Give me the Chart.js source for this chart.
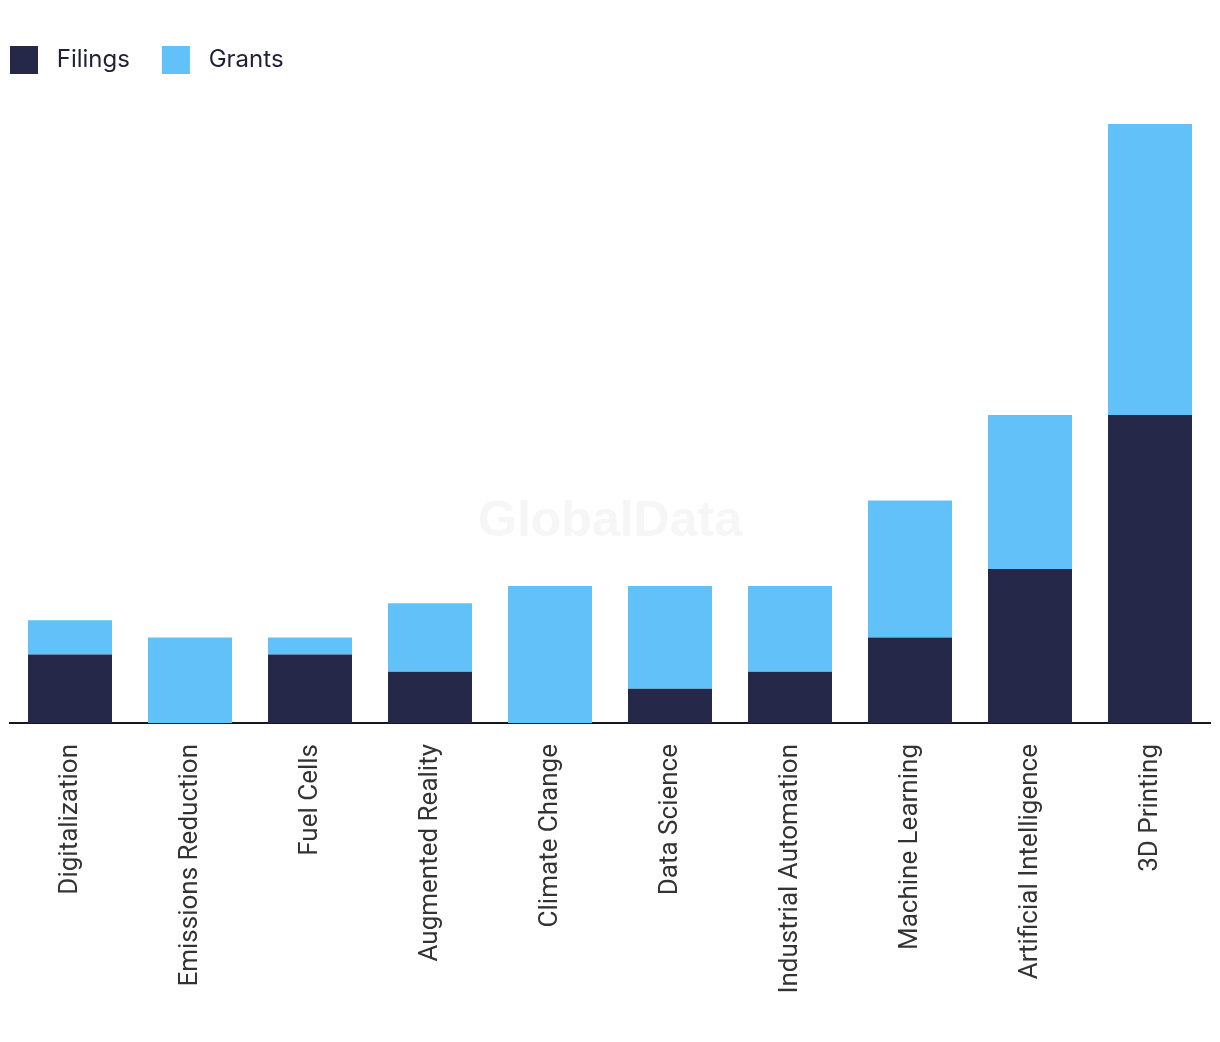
<!DOCTYPE html>
<html>
<head>
<meta charset="utf-8">
<script src="https://cdn.jsdelivr.net/npm/chart.js@4.4.1/dist/chart.umd.min.js"></script>
<style>
  html, body { margin: 0; padding: 0; background: #fff; }
  #wrap { width: 1220px; height: 1042px; position: relative; }
</style>
</head>
<body>
<div id="wrap"><canvas id="patentChart"></canvas></div>
<script>
// datos del gráfico
const categorias = ["Digitalization", "Emissions Reduction", "Fuel Cells", "Augmented Reality",
  "Climate Change", "Data Science", "Industrial Automation", "Machine Learning",
  "Artificial Intelligence", "3D Printing"];
const filings = [4, 0, 4, 3, 0, 2, 3, 5, 9, 18];
const grants = [2, 5, 1, 4, 8, 6, 5, 8, 9, 17];

// marca de agua
const marcaAgua = {
  id: "marcaAgua",
  beforeDatasetsDraw(chart) {
    const { ctx } = chart;
    ctx.save();
    ctx.font = "bold 50px 'Liberation Sans', Arial, sans-serif";
    ctx.fillStyle = "#f6f6f6";
    ctx.textAlign = "center";
    ctx.textBaseline = "middle";
    ctx.fillText("GlobalData", 610, 522);
    ctx.restore();
  }
};

// alto fijo de la leyenda y corrimiento a la izquierda
const legendaAltura = {
  id: "legendaAltura",
  beforeInit(chart) {
    const fitOrig = chart.legend.fit;
    chart.legend.fit = function () {
      fitOrig.bind(chart.legend)();
      this.height = 110;
    };
  },
  afterLayout(chart) {
    chart.legend.left -= 32;
    chart.legend.right -= 32;
  }
};

new Chart(document.getElementById("patentChart"), {
  type: "bar",
  data: {
    labels: categorias,
    datasets: [
      {
        label: " Filings",
        data: filings,
        backgroundColor: "#262849",
        barPercentage: 0.7,
        categoryPercentage: 1
      },
      {
        label: " Grants",
        data: grants,
        backgroundColor: "#62c1f8",
        barPercentage: 0.7,
        categoryPercentage: 1
      }
    ]
  },
  options: {
    responsive: true,
    maintainAspectRatio: false,
    animation: false,
    layout: { padding: { top: 14, left: 10, right: 10, bottom: 0 } },
    plugins: {
      legend: {
        position: "top",
        align: "start",
        labels: {
          boxWidth: 28,
          boxHeight: 28,
          padding: 32,
          color: "#1f2035",
          font: { family: "Inter, 'Noto Sans', sans-serif", size: 24 }
        }
      },
      tooltip: { enabled: false }
    },
    scales: {
      x: {
        stacked: true,
        grid: { display: false, drawTicks: false },
        border: { display: true, color: "#141628", width: 2 },
        afterFit(scale) { scale.height = 319; },
        ticks: {
          color: "#333",
          minRotation: 90,
          maxRotation: 90,
          padding: 21,
          font: { family: "Roboto, 'Liberation Sans', sans-serif", size: 26 }
        }
      },
      y: {
        stacked: true,
        display: false,
        min: 0,
        max: 35
      }
    }
  },
  plugins: [marcaAgua, legendaAltura]
});
</script>
</body>
</html>
